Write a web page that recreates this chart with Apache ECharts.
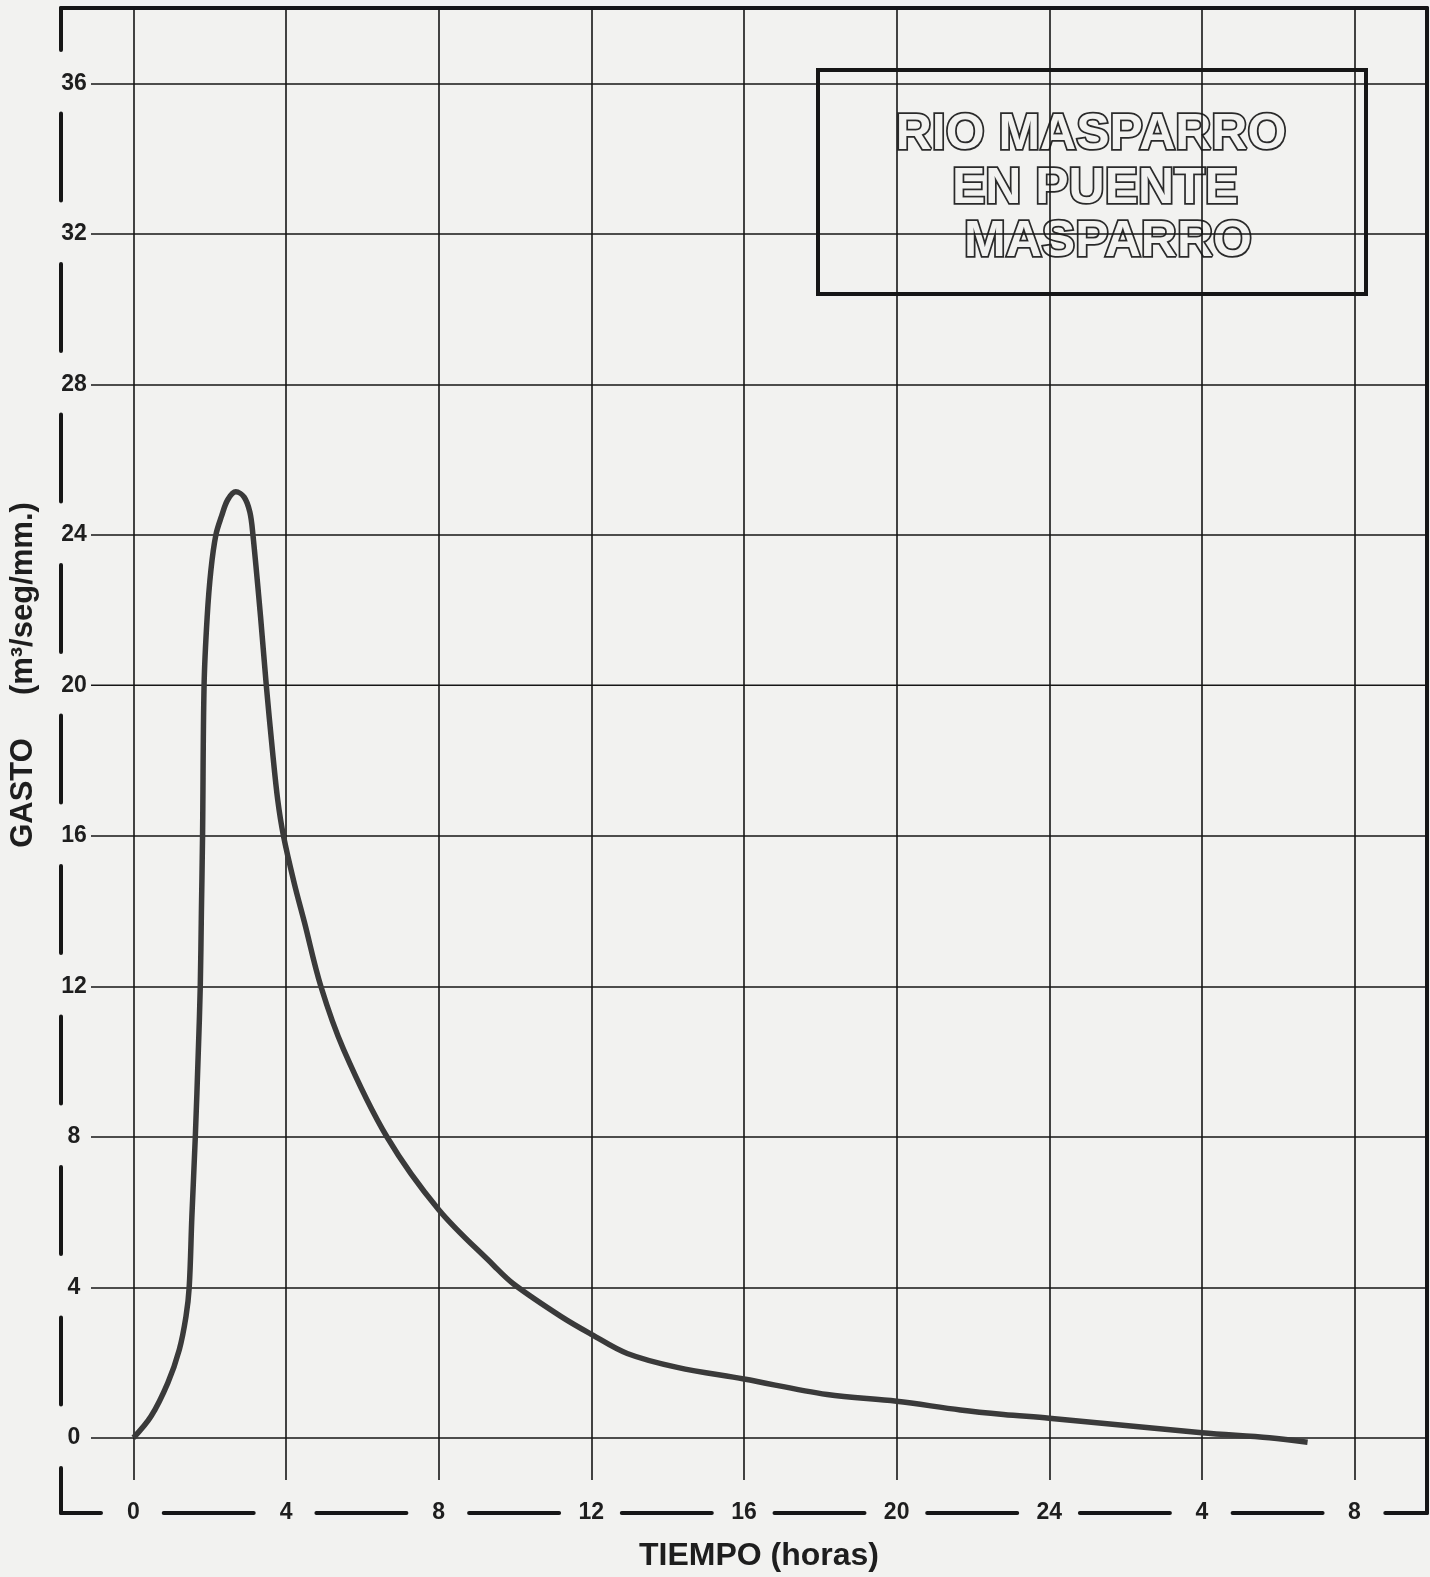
<!DOCTYPE html>
<html><head><meta charset="utf-8">
<script src="https://cdn.jsdelivr.net/npm/echarts@6/dist/echarts.min.js"></script>
<style>html,body{margin:0;padding:0;background:#f2f2f0}#c{width:1430px;height:1577px}</style>
</head><body><div id="c"></div>
<script>
const tiempo = [0, 0.46, 0.90, 1.20, 1.375, 1.46, 1.53, 1.62, 1.70, 1.75, 1.78, 1.81, 1.85, 1.93, 2.03, 2.16, 2.31, 2.47, 2.68, 2.90, 3.05, 3.13, 3.33, 3.48, 3.64, 3.78, 3.93, 4.21, 4.48, 4.91, 5.51, 6.64, 8.0, 9.44, 9.97, 11.21, 12.0, 12.94, 14.25, 16.0, 18.18, 20.0, 21.67, 22.8, 24.0, 28.0, 29.77, 30.77];
const gasto  = [0, 0.57, 1.46, 2.34, 3.22, 4.0, 5.88, 8.0, 10.31, 12.0, 14.0, 16.0, 20.0, 21.8, 23.07, 24.0, 24.5, 24.93, 25.14, 25.0, 24.6, 24.0, 21.82, 20.0, 18.28, 16.95, 16.0, 14.75, 13.7, 12.0, 10.31, 8.0, 6.06, 4.58, 4.08, 3.22, 2.75, 2.24, 1.87, 1.56, 1.15, 0.97, 0.74, 0.62, 0.52, 0.13, 0.0, -0.12];
const xTicks = [0, 4, 8, 12, 16, 20, 24, 28, 32];
const xTickLabels = ['0', '4', '8', '12', '16', '20', '24', '4', '8'];
const yTicks = [0, 4, 8, 12, 16, 20, 24, 28, 32, 36];
const yTickLabels = ['0', '4', '8', '12', '16', '20', '24', '28', '32', '36'];
const xRange = [-1.9, 33.9];
const yRange = [-2, 38];
const titleLines = ['RIO MASPARRO', 'EN PUENTE', 'MASPARRO'];
const xName = 'TIEMPO (horas)';
const yName = 'GASTO     (m³/seg/mm.)';

// ---- chart ----
const BG = '#f2f2f0';
const INK = '#161616';
const FONT = '"Liberation Sans", Arial, sans-serif';
const chart = echarts.init(document.getElementById('c'), null, {renderer: 'canvas'});
const points = tiempo.map((t, i) => [t, gasto[i]]);
const xLab = v => xTickLabels[xTicks.indexOf(v)];
const yLab = v => yTickLabels[yTicks.indexOf(v)];

const option = {
  backgroundColor: BG,
  animation: false,
  grid: {left: 60, right: 3, top: 8, bottom: 64, containLabel: false},
  xAxis: [
    { // vertical grid lines (long ticks)
      type: 'value', min: xRange[0], max: xRange[1], position: 'bottom', offset: -33,
      axisLine: {show: false, onZero: false}, splitLine: {show: false}, axisLabel: {show: false},
      axisTick: {show: true, inside: true, length: 1472, customValues: xTicks,
        lineStyle: {color: INK, width: 1.6}}
    },
    { // bottom dashed frame with labels
      type: 'value', min: xRange[0], max: xRange[1], position: 'bottom', offset: 0,
      axisLine: {show: true, onZero: false, lineStyle: {color: INK, width: 4, type: [90, 62.7], dashOffset: 50}},
      axisTick: {show: false}, splitLine: {show: false},
      axisLabel: {show: true, customValues: xTicks, formatter: xLab, margin: 0,
        verticalAlign: 'middle', color: '#1e1e1e', fontSize: 23, fontWeight: 'bold', fontFamily: FONT},
      name: xName, nameLocation: 'middle', nameGap: 27,
      nameTextStyle: {color: '#1e1e1e', fontSize: 32, fontWeight: 'bold', fontFamily: FONT, padding: [0, 0, 0, 30]}
    },
    { // top frame
      type: 'value', min: xRange[0], max: xRange[1], position: 'top', offset: 0,
      axisLine: {show: true, onZero: false, lineStyle: {color: INK, width: 4}},
      axisTick: {show: false}, splitLine: {show: false}, axisLabel: {show: false}
    }
  ],
  yAxis: [
    { // horizontal grid lines (long ticks) + labels
      type: 'value', min: yRange[0], max: yRange[1], position: 'left', offset: -30,
      axisLine: {show: false, onZero: false}, splitLine: {show: false},
      axisTick: {show: true, inside: true, length: 1337, customValues: yTicks,
        lineStyle: {color: INK, width: 1.6}},
      axisLabel: {show: true, customValues: yTicks, formatter: yLab, margin: 17, align: 'center',
        color: '#1e1e1e', fontSize: 23, fontWeight: 'bold', fontFamily: FONT}
    },
    { // left dashed frame
      type: 'value', min: yRange[0], max: yRange[1], position: 'left', offset: 0,
      axisLine: {show: true, onZero: false, lineStyle: {color: INK, width: 4, type: [87, 63.5], dashOffset: 42}},
      axisTick: {show: false}, splitLine: {show: false}, axisLabel: {show: false},
      name: yName, nameLocation: 'middle', nameGap: 22, nameRotate: 90,
      nameTextStyle: {color: '#1e1e1e', fontSize: 31, fontWeight: 'bold', fontFamily: FONT, padding: [0, 0, 0, 171]}
    },
    { // right frame
      type: 'value', min: yRange[0], max: yRange[1], position: 'right', offset: 0,
      axisLine: {show: true, onZero: false, lineStyle: {color: INK, width: 4}},
      axisTick: {show: false}, splitLine: {show: false}, axisLabel: {show: false}
    }
  ],
  series: [{
    type: 'line', xAxisIndex: 0, yAxisIndex: 0, data: points,
    showSymbol: false, smooth: 0.35, z: 5,
    lineStyle: {color: '#3a3a3a', width: 5.5, cap: 'butt', join: 'round'}
  }],
  graphic: [{
    type: 'group', z: 100,
    children: [
      {type: 'rect', shape: {x: 818, y: 70, width: 548, height: 224},
        style: {fill: BG, stroke: INK, lineWidth: 4}},
      {type: 'text', x: 1091, y: 135, style: {text: titleLines[0], align: 'center', verticalAlign: 'middle',
        font: 'bold 50px ' + FONT, fill: BG, stroke: '#2a2a2a', lineWidth: 3.5}},
      {type: 'text', x: 1095, y: 189, style: {text: titleLines[1], align: 'center', verticalAlign: 'middle',
        font: 'bold 50px ' + FONT, fill: BG, stroke: '#2a2a2a', lineWidth: 3.5}},
      {type: 'text', x: 1108, y: 242, style: {text: titleLines[2], align: 'center', verticalAlign: 'middle',
        font: 'bold 50px ' + FONT, fill: BG, stroke: '#2a2a2a', lineWidth: 3.5}}
    ]
  }]
};
chart.setOption(option);
</script>
</body></html>
